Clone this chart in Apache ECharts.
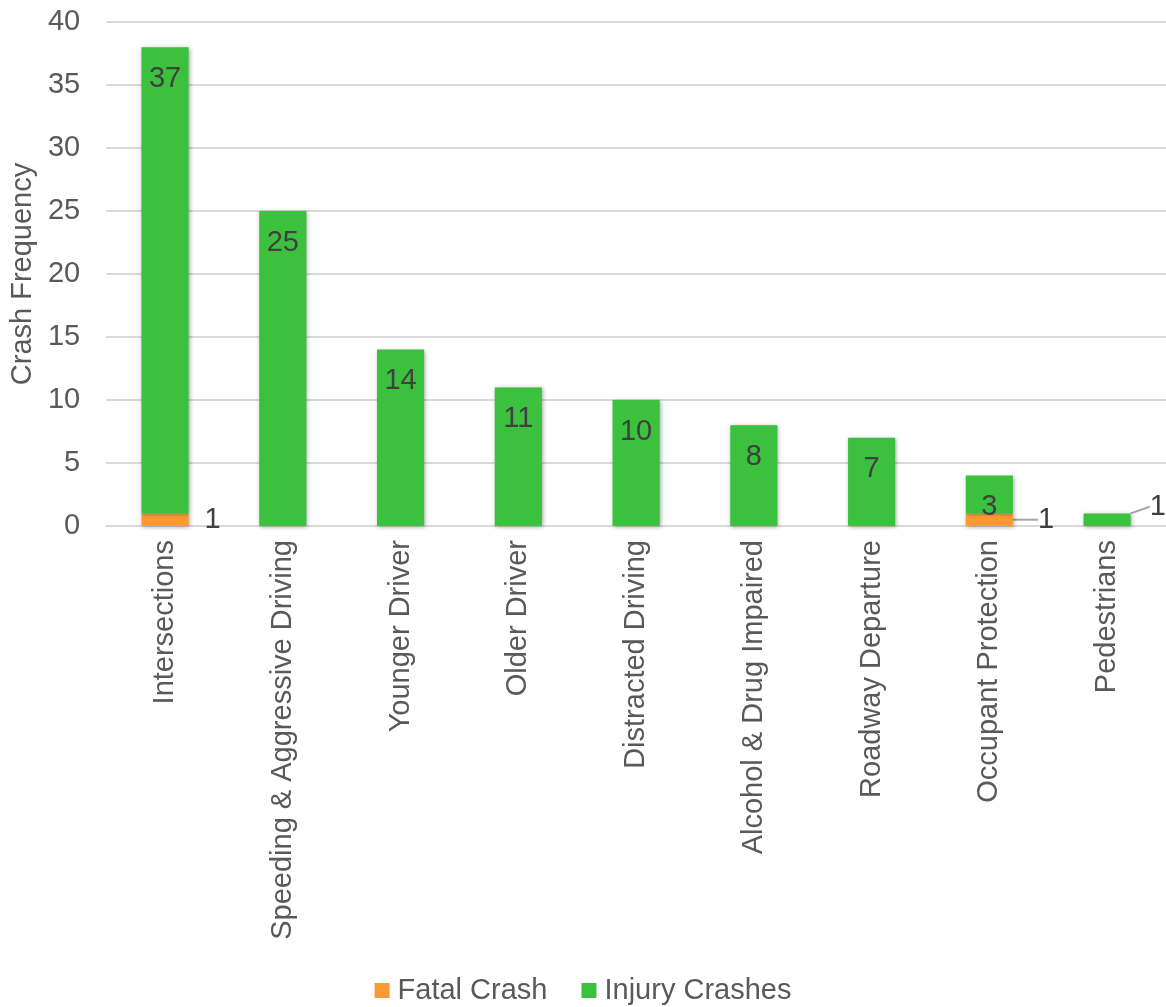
<!DOCTYPE html>
<html>
<head>
<meta charset="utf-8">
<script src="https://cdn.jsdelivr.net/npm/echarts@6/dist/echarts.min.js"></script>
<style>
html,body{margin:0;padding:0;background:#fff;}
#chart{width:1166px;height:1007px;}
</style>
</head>
<body>
<div id="chart"></div>
<script>
const categories = ["Intersections","Speeding & Aggressive Driving","Younger Driver","Older Driver","Distracted Driving","Alcohol & Drug Impaired","Roadway Departure","Occupant Protection","Pedestrians"];
const fatalCrash = [1,0,0,0,0,0,0,1,0];
const injuryCrashes = [37,25,14,11,10,8,7,3,1];
const yTicks = [0,5,10,15,20,25,30,35,40];

const FONT = 'Liberation Sans, Arial, sans-serif';
const FS = 29;
const shadow = {shadowBlur:4, shadowColor:'rgba(0,0,0,0.35)', shadowOffsetX:1, shadowOffsetY:1};

const fatalData = fatalCrash.map((v,i)=>({
  value: v ? v : '-',
  labelLine:{show: i===7}
}));
const pedLabelData = injuryCrashes.map((v,i)=> i===categories.length-1 ? v : '-');

const chart = echarts.init(document.getElementById('chart'));
chart.setOption({
  animation:false,
  backgroundColor:'#fff',
  textStyle:{fontFamily:FONT},
  grid:{left:104, top:22, width:1066, bottom:481, containLabel:false},
  legend:{
    bottom:2, left:'center', padding:0, itemWidth:15, itemHeight:15, itemGap:34, icon:'rect',
    textStyle:{fontFamily:FONT, fontSize:FS, color:'#595959', padding:[0,0,0,3]},
    data:['Fatal Crash','Injury Crashes']
  },
  xAxis:{
    type:'category', data:categories,
    axisLine:{show:true, lineStyle:{color:'#d9d9d9', width:2}},
    axisTick:{show:false},
    axisLabel:{rotate:90, margin:14, fontFamily:FONT, fontSize:FS, color:'#595959', interval:0}
  },
  yAxis:{
    type:'value', min:yTicks[0], max:yTicks[yTicks.length-1], interval:5,
    name:'Crash Frequency', nameLocation:'middle', nameGap:68,
    nameTextStyle:{fontFamily:FONT, fontSize:FS, color:'#595959'},
    axisLine:{show:false}, axisTick:{show:false},
    axisLabel:{margin:26, fontFamily:FONT, fontSize:FS, color:'#595959'},
    splitLine:{lineStyle:{color:'#d9d9d9', width:2}}
  },
  series:[
    {
      name:'Fatal Crash', type:'bar', stack:'total', data:fatalData, barWidth:'40%',
      itemStyle:Object.assign({color:'#F99A36'}, shadow),
      label:{show:true, position:'right', distance:16, offset:[0,-7], fontFamily:FONT, fontSize:FS, color:'#404040'},
      labelLayout:function(p){ return p.dataIndex===7 ? {dx:9} : {}; },
      labelLine:{lineStyle:{color:'#a6a6a6', width:2}}
    },
    {
      name:'Injury Crashes', type:'bar', stack:'total', data:injuryCrashes, barWidth:'40%',
      itemStyle:Object.assign({color:'#3CC13F'}, shadow),
      label:{show:true, position:'insideTop', distance:17, fontFamily:FONT, fontSize:FS, color:'#404040',
        formatter:p=>p.dataIndex===categories.length-1 ? '' : String(p.value)},
      z:3
    },
    {
      name:'Injury Crashes', type:'bar', stack:'lbl', data:pedLabelData, barWidth:'40%',
      barGap:'-100%',
      itemStyle:{color:'rgba(0,0,0,0)'},
      label:{show:true, position:'right', distance:5, fontFamily:FONT, fontSize:FS, color:'#404040'},
      labelLayout:function(p){ return {dx:14, dy:-13}; },
      labelLine:{show:true, lineStyle:{color:'#a6a6a6', width:2}},
      tooltip:{show:false}
    }
  ]
});
</script>
</body>
</html>
